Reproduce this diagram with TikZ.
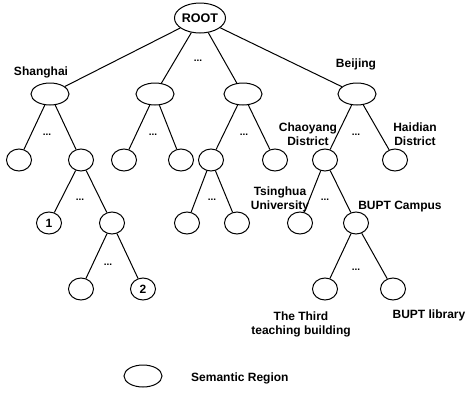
\documentclass[tikz,border=0pt]{standalone}
\usepackage{fontspec}
\setmainfont{Liberation Sans}
\usetikzlibrary{shapes.geometric}
\begin{document}
\begin{tikzpicture}[x=1pt,y=-1pt,
  big/.style={draw,ellipse,line width=1pt,minimum width=38pt,minimum height=22pt,inner sep=0pt},
  small/.style={draw,ellipse,line width=1pt,minimum width=25pt,minimum height=22pt,inner sep=0pt,font=\bfseries\fontsize{12}{14}\selectfont},
  rootbox/.style={draw,ellipse,line width=1pt,minimum width=50pt,minimum height=30pt,inner sep=0pt,font=\bfseries\fontsize{12.5}{14}\selectfont},
  lbl/.style={font=\bfseries\fontsize{12}{14}\selectfont,inner sep=0pt,align=center},
  dots/.style={font=\bfseries\fontsize{10}{12}\selectfont,inner sep=0pt},
  edge/.style={line width=1pt}]
\useasboundingbox (0,0) rectangle (467,392);
% level 0
\node[rootbox] (root) at (200,18) {ROOT};
% level 1
\node[big] (sh) at (50,94) {};
\node[big] (m1) at (155,94) {};
\node[big] (m2) at (243,94) {};
\node[big] (bj) at (357,94) {};
% level 2
\node[small] (a1) at (19,160) {};
\node[small] (a2) at (81,160) {};
\node[small] (b1) at (124,160) {};
\node[small] (b2) at (181,160) {};
\node[small] (c1) at (211,160) {};
\node[small] (c2) at (275,160) {};
\node[small] (cy) at (325,160) {};
\node[small] (hd) at (395,160) {};
% level 3
\node[small] (n1) at (49,223) {1};
\node[small] (d2) at (112,223) {};
\node[small] (f1) at (187,223) {};
\node[small] (f2) at (237,223) {};
\node[small] (ts) at (300,223) {};
\node[small] (bc) at (356,223) {};
% level 4
\node[small] (e1) at (81,289) {};
\node[small] (n2) at (143,289) {2};
\node[small] (g1) at (325,289) {};
\node[small] (g2) at (393,289) {};
% legend
\node[big] (leg) at (143,376) {};
\node[lbl,anchor=west] (legtxt) at (191,378) {Semantic Region};
% edges
\foreach \p/\c in {root/sh,root/m1,root/m2,root/bj,sh/a1,sh/a2,m1/b1,m1/b2,m2/c1,m2/c2,bj/cy,bj/hd,a2/n1,a2/d2,d2/e1,d2/n2,c1/f1,c1/f2,cy/ts,cy/bc,bc/g1,bc/g2}
  \draw[edge] (\p) -- (\c);
% labels
\node[lbl] (lsh) at (41,72) {Shanghai};
\node[lbl] (lbj) at (356,64) {Beijing};
\node[lbl] (lcy) at (308,134) {Chaoyang\\District};
\node[lbl] (lhd) at (415,134) {Haidian\\District};
\node[lbl] (lts) at (280,199) {Tsinghua\\University};
\node[lbl] (lbc) at (400,207) {BUPT Campus};
\node[lbl] (ltt) at (301,324) {The Third\\teaching building};
\node[lbl] (lbl2) at (429,315) {BUPT library};
% dots
\node[dots] (dt0) at (198,61) {...};
\node[dots] (dt1) at (47,135) {...};
\node[dots] (dt2) at (153,135) {...};
\node[dots] (dt3) at (244,135) {...};
\node[dots] (dt4) at (356,135) {...};
\node[dots] (dt5) at (80,200) {...};
\node[dots] (dt6) at (212,200) {...};
\node[dots] (dt7) at (325,200) {...};
\node[dots] (dt8) at (108,265) {...};
\node[dots] (dt9) at (356,270) {...};
\end{tikzpicture}
\end{document}
